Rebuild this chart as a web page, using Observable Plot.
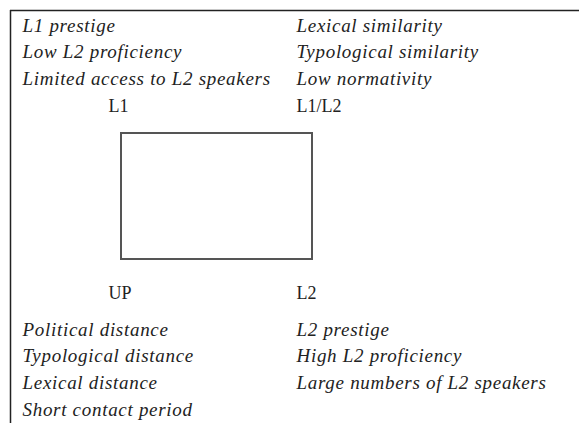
<!DOCTYPE html>
<html>
<head>
<meta charset="utf-8">
<script src="https://cdn.jsdelivr.net/npm/d3@7"></script>
<script src="https://cdn.jsdelivr.net/npm/@observablehq/plot@0.6"></script>
<style>
  html, body { margin: 0; padding: 0; background: #fff; }
  #chart svg { display: block; }
  #chart text { font-family: 'Liberation Serif', 'Times New Roman', serif; }
  #chart g.it text { letter-spacing: 0.7px; }
</style>
</head>
<body>
<div id="chart"></div>
<script>
// Factors favouring each outcome
const topLeftFactors = ["L1 prestige", "Low L2 proficiency", "Limited access to L2 speakers"];
const topRightFactors = ["Lexical similarity", "Typological similarity", "Low normativity"];
const bottomLeftFactors = ["Political distance", "Typological distance", "Lexical distance", "Short contact period"];
const bottomRightFactors = ["L2 prestige", "High L2 proficiency", "Large numbers of L2 speakers"];
// Corner (pole) labels of the box
const topPoles = ["L1", "L1/L2"];
const bottomPoles = ["UP", "L2"];

// Layout (pixel space of the figure)
const W = 579, H = 423;
const colX = {left: 22, right: 296};
const poleX = {left: 108, right: 296};
const lineGap = 26.9;
const topBase = 31;
const bottomBase = 335;

const rows = [];
topLeftFactors.forEach((t, i) => rows.push({text: t, x: colX.left, y: topBase + i * lineGap}));
topRightFactors.forEach((t, i) => rows.push({text: t, x: colX.right, y: topBase + i * lineGap}));
bottomLeftFactors.forEach((t, i) => rows.push({text: t, x: colX.left, y: bottomBase + i * lineGap}));
bottomRightFactors.forEach((t, i) => rows.push({text: t, x: colX.right, y: bottomBase + i * lineGap}));
const poles = [];
topPoles.forEach((t, i) => poles.push({text: t, x: i === 0 ? poleX.left : poleX.right, y: topBase + 3 * lineGap}));
bottomPoles.forEach((t, i) => poles.push({text: t, x: i === 0 ? poleX.left : poleX.right, y: 298}));

const box = [{x1: 121, x2: 312, y1: 133, y2: 259}];
const serif = "'Liberation Serif', 'Times New Roman', serif";

const chart = Plot.plot({
  width: W,
  height: H,
  margin: 0,
  x: {domain: [0, W], range: [0, W], axis: null},
  y: {domain: [0, H], range: [0, H], axis: null},
  style: {fontFamily: serif, background: "#fff"},
  marks: [
    Plot.ruleY([10], {x1: 10, x2: W, stroke: "#222", strokeWidth: 1.5}),
    Plot.ruleX([10], {y1: 10, y2: H, stroke: "#222", strokeWidth: 1.5}),
    Plot.rect(box, {x1: "x1", x2: "x2", y1: "y1", y2: "y2", fill: "none", stroke: "#555", strokeWidth: 2}),
    Plot.text(rows, {x: "x", y: "y", text: "text", textAnchor: "start", lineAnchor: "bottom",
      fontSize: 19, fontStyle: "italic", fontFamily: serif, fill: "#222", className: "it"}),
    Plot.text(poles, {x: "x", y: "y", text: "text", textAnchor: "start", lineAnchor: "bottom",
      fontSize: 18, fontFamily: serif, fill: "#222"})
  ]
});
document.getElementById("chart").appendChild(chart);
</script>
</body>
</html>
